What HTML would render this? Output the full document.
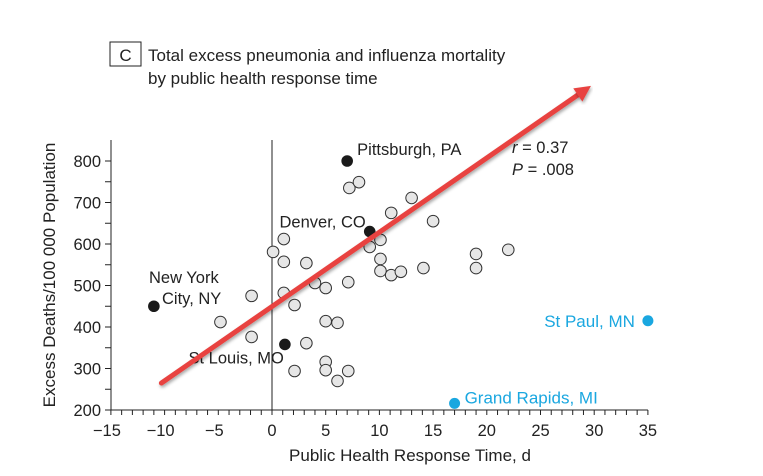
<!DOCTYPE html>
<html><head><meta charset="utf-8"><style>
body{margin:0;background:#fff;}
svg{display:block;font-family:"Liberation Sans",Arial,sans-serif;}
</style></head><body>
<svg id="c" width="763" height="476" viewBox="0 0 763 476">
<defs><filter id="sh" x="-10%" y="-10%" width="120%" height="130%"><feDropShadow dx="1" dy="2" stdDeviation="1.5" flood-color="#000" flood-opacity="0.35"/></filter></defs>
<rect x="110" y="42" width="31" height="24" fill="none" stroke="#222" stroke-width="1"/>
<text x="125.5" y="61" font-size="17" text-anchor="middle" fill="#222">C</text>
<text x="148" y="61" font-size="17" fill="#222">Total excess pneumonia and influenza mortality</text>
<text x="148" y="84" font-size="17" fill="#222">by public health response time</text>
<text transform="translate(55,275) rotate(-90)" font-size="17" text-anchor="middle" fill="#222">Excess Deaths/100 000 Population</text>
<text x="410" y="461" font-size="17" text-anchor="middle" fill="#222">Public Health Response Time, d</text>
<text x="512" y="153" font-size="16.5" fill="#222"><tspan font-style="italic">r</tspan> = 0.37</text>
<text x="512" y="175" font-size="16.5" fill="#222"><tspan font-style="italic">P</tspan> = .008</text>
<g id="g"></g>
</svg>
<script>
const xTicks=[-15,-10,-5,0,5,10,15,20,25,30,35];
const yTicks=[200,300,400,500,600,700,800];
const openX=[7.2,8.1,13.0,11.1,15.0,9.1,10.1,10.1,10.1,11.1,12.0,14.1,19.0,19.0,22.0,7.1,5.0,4.0,3.2,5.0,6.1,3.2,5.0,5.0,6.1,7.1,0.1,1.1,1.1,1.1,2.1,-1.9,-4.8,-1.9,2.1];
const openY=[735,749,711,675,655,593,610,564,535,525,533,542,576,542,586,508,494,506,554,414,410,361,316,296,270,294,581,612,557,482,453,475,412,376,294];
const cityNames=["Pittsburgh, PA","Denver, CO","New York","St Louis, MO"];
const cityX=[7.0,9.1,-11.0,1.2];
const cityY=[800,630,450,358];
const blueNames=["Grand Rapids, MI","St Paul, MN"];
const blueX=[17,35];
const blueY=[216,415];
const fitX=[-10.3,29.7];
const fitY=[265,981];
const X=v=>272+v*10.74;
const Y=v=>410-(v-200)*0.415;
const ns="http://www.w3.org/2000/svg",g=document.getElementById('g');
function mk(t,a){const e=document.createElementNS(ns,t);for(const k in a)e.setAttribute(k,a[k]);g.appendChild(e);return e;}
let e;
e=mk('line',{x1:111,y1:140,x2:111,y2:410,stroke:'#222','stroke-width':1});


e=mk('line',{x1:111,y1:410,x2:X(35),y2:410,stroke:'#222','stroke-width':1});


e=mk('line',{x1:X(0),y1:140,x2:X(0),y2:410,stroke:'#222','stroke-width':1});


for(let v=-15;v<=35;v++){e=mk('line',{x1:X(v),y1:410,x2:X(v),y2:415,stroke:'#222','stroke-width':1});

}
for(let v=200;v<=800;v+=50){e=mk('line',{x1:105,y1:Y(v),x2:111,y2:Y(v),stroke:'#222','stroke-width':1});

}
xTicks.forEach(v=>{e=mk('text',{x:X(v)-(v<0?4:0),y:436,'font-size':16.5,'text-anchor':'middle',fill:'#222'});e.textContent=(v<0?'\u2212'+(-v):v);

});
yTicks.forEach(v=>{e=mk('text',{x:101,y:Y(v)+6,'font-size':16.5,'text-anchor':'end',fill:'#222'});e.textContent=v;

});
openX.forEach((v,i)=>{e=mk('circle',{cx:X(v),cy:Y(openY[i]),r:5.8,fill:'#e6e6e6',stroke:'#333','stroke-width':1});

});
const lab=[[10,-6,'start'],[-4,-4,'end'],[0,0,'start'],[-1,19,'end']];
cityX.forEach((v,i)=>{const cx=X(v),cy=Y(cityY[i]);e=mk('circle',{cx:cx,cy:cy,r:5.8,fill:'#1a1a1a'});


if(i===2){e=mk('text',{x:149,y:283,'font-size':16.5,fill:'#222'});e.textContent='New York';


e=mk('text',{x:162,y:304,'font-size':16.5,fill:'#222'});e.textContent='City, NY';}
else{e=mk('text',{x:cx+lab[i][0],y:cy+lab[i][1],'font-size':16.5,'text-anchor':lab[i][2],fill:'#222'});e.textContent=cityNames[i];}

});
blueX.forEach((v,i)=>{const cx=X(v),cy=Y(blueY[i]);e=mk('circle',{cx:cx,cy:cy,r:5.5,fill:'#1aa7e0'});


e=mk('text',{x:i==0?cx+10:cx-13,y:cy+(i==0?0:6),'font-size':17,'text-anchor':i==0?'start':'end',fill:'#1aa7e0'});e.textContent=blueNames[i];

});
const x1=X(fitX[0]),y1=Y(fitY[0]),x2=X(fitX[1]),y2=Y(fitY[1]);
const ang=Math.atan2(y2-y1,x2-x1),L=16,W=8;
const bx=x2-L*Math.cos(ang),by=y2-L*Math.sin(ang);
e=mk('line',{x1:x1,y1:y1,x2:bx,y2:by,stroke:'#e8433f','stroke-width':5,'stroke-linecap':'round',filter:'url(#sh)'});


e=mk('polygon',{points:`${x2},${y2} ${bx+W*Math.sin(ang)},${by-W*Math.cos(ang)} ${bx-W*Math.sin(ang)},${by+W*Math.cos(ang)}`,fill:'#e8433f',filter:'url(#sh)'});


</script>
</body></html>
